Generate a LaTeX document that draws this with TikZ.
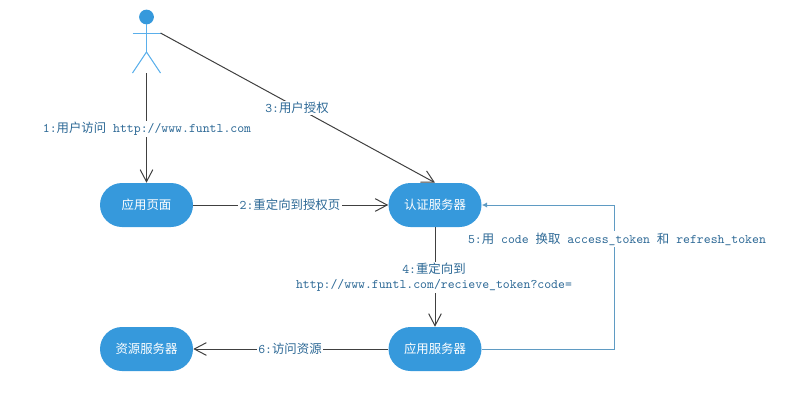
\documentclass[tikz,border=0pt]{standalone}
\usepackage{fontspec}
\usetikzlibrary{arrows.meta}
\newfontfamily\cjk{Noto Sans CJK SC}
\definecolor{boxblue}{RGB}{54,153,220}
\definecolor{limbblue}{RGB}{90,175,235}
\definecolor{labelblue}{RGB}{45,105,150}
\definecolor{backblue}{RGB}{95,155,195}
\tikzset{
  service/.style={draw=none,fill=boxblue,rounded corners=16.5pt,minimum width=69.75pt,minimum height=33pt,inner sep=0pt,text=white,font=\cjk\fontsize{9.3}{11}\selectfont},
  flowlabel/.style={fill=white,inner sep=1pt,text=labelblue,align=center,font=\cjk\fontsize{9.3}{11.5}\selectfont},
  flow/.style={draw=black!75,line width=0.75pt,-{Straight Barb[length=9pt,width=9.5pt]}},
  backflow/.style={draw=backblue,line width=0.75pt,-{Latex[length=4pt,width=4pt]}},
  limb/.style={draw=limbblue,line width=0.75pt}
}
\newcommand{\mono}[1]{{\ttfamily\fontsize{9.85}{11.5}\selectfont #1}}
\begin{document}
\begin{tikzpicture}[x=0.75pt,y=0.75pt,yscale=-1,xscale=1]
\useasboundingbox (0,0) rectangle (799,400);

%Actor
\fill [boxblue] (146.5,17) circle [radius=7.4];
\coordinate (neck) at (146.5,24);
\coordinate (hip) at (146.5,52);
\coordinate (handL) at (132.5,33);
\coordinate (handR) at (160.5,33);
\coordinate (footL) at (132.5,73);
\coordinate (footR) at (160.5,73);
\coordinate (feet) at (146.5,73);
\draw [limb] (neck) -- (hip);
\draw [limb] (handL) -- (handR);
\draw [limb] (footL) -- (hip) -- (footR);

%Services
\node [service] (page) at (146.5,205) {应用页面};
\node [service] (auth) at (435,205) {认证服务器};
\node [service] (app) at (435,349) {应用服务器};
\node [service] (res) at (146.5,349) {资源服务器};

%Flows
\draw [flow] (feet) -- (page.north);
\draw [flow] (handR) -- (auth.north);
\draw [flow] (page) -- (auth);
\draw [flow] (auth) -- (app);
\draw [flow] (app) -- (res);
\draw [backflow] (app.east) -- ++(133,0) |- (auth.east);

% Text Node
\node [flowlabel] (visit) at (147,129) {\mono{1:}用户访问\mono{ http://www.funtl.com}};
\node [flowlabel] (grant) at (297,108) {\mono{3:}用户授权};
\node [flowlabel] (redirect) at (290,205) {\mono{2:}重定向到授权页};
\node [flowlabel] (callback) at (434,277.5) {\mono{4:}重定向到\\\mono{http://www.funtl.com/recieve\_token?code=}};
\node [flowlabel] (exchange) at (617,239) {\mono{5:}用\mono{ code }换取\mono{ access\_token }和\mono{ refresh\_token}};
\node [flowlabel] (fetch) at (290,349) {\mono{6:}访问资源};

\end{tikzpicture}
\end{document}
